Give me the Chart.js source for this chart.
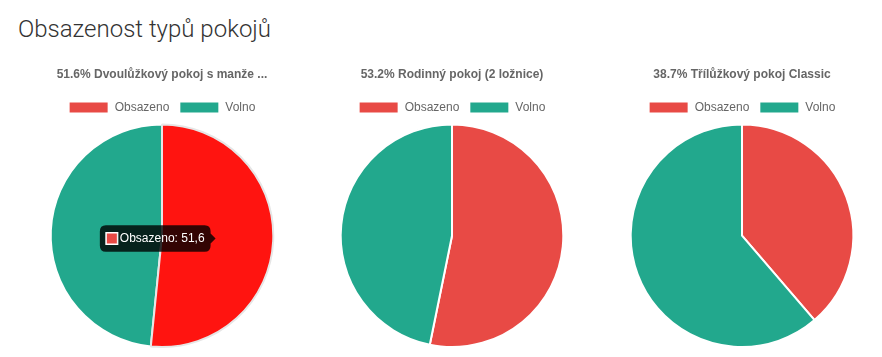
<!DOCTYPE html>
<html>
<head>
<meta charset="utf-8">
<script src="https://cdn.jsdelivr.net/npm/chart.js@4"></script>
<style>
  body { margin: 0; background: #fff; overflow: hidden; }
  h1 {
    position: absolute; left: 18px; top: 15px; margin: 0;
    font-family: Roboto, sans-serif; font-weight: 300; font-size: 24px; color: #333;
  }
  .box { position: absolute; top: 57px; width: 280px; height: 291px; }
</style>
</head>
<body>
<h1>Obsazenost typů pokojů</h1>
<div class="box" style="left:22px"><canvas id="c0"></canvas></div>
<div class="box" style="left:312px"><canvas id="c1"></canvas></div>
<div class="box" style="left:602px"><canvas id="c2"></canvas></div>
<script>
const labels = ["Obsazeno", "Volno"];
const roomTitles = [
  "51.6% Dvoulůžkový pokoj s manže ...",
  "53.2% Rodinný pokoj (2 ložnice)",
  "38.7% Třílůžkový pokoj Classic",
];
const occupied = [51.6, 53.2, 38.7];
const free = [48.4, 46.8, 61.3];

const red = "#E84A45";
const teal = "#22A88D";

Chart.defaults.font.family = "Arial, 'Liberation Sans', sans-serif";
Chart.defaults.color = "#666";

const charts = roomTitles.map((title, i) => new Chart(document.getElementById("c" + i), {
  type: "pie",
  data: {
    labels: labels,
    datasets: [{
      data: [occupied[i], free[i]],
      backgroundColor: [red, teal],
      hoverBackgroundColor: ["#FF1410", "#1FB896"],
      borderColor: "#fff",
      borderWidth: 2,
      hoverOffset: 0,
    }],
  },
  options: {
    responsive: true,
    maintainAspectRatio: false,
    animation: false,
    plugins: {
      title: {
        display: true,
        text: title,
        font: { size: 12, weight: "bold" },
        color: "#666",
      },
      legend: {
        labels: { boxWidth: 40, boxHeight: 12, font: { size: 12 }, color: "#666" },
      },
      tooltip: {
        displayColors: true,
        callbacks: {
          title: () => "",
          label: (item) => `${item.label}: ${String(item.raw).replace(".", ",")}`,
          labelColor: (item) => ({ borderColor: "#fff", backgroundColor: red }),
        },
      },
    },
  },
}));

// first chart shown with the "Obsazeno" slice hovered
const active = [{ datasetIndex: 0, index: 0 }];
charts[0].setActiveElements(active);
charts[0].tooltip.setActiveElements(active, { x: 0, y: 0 });
charts[0].update();
</script>
</body>
</html>
